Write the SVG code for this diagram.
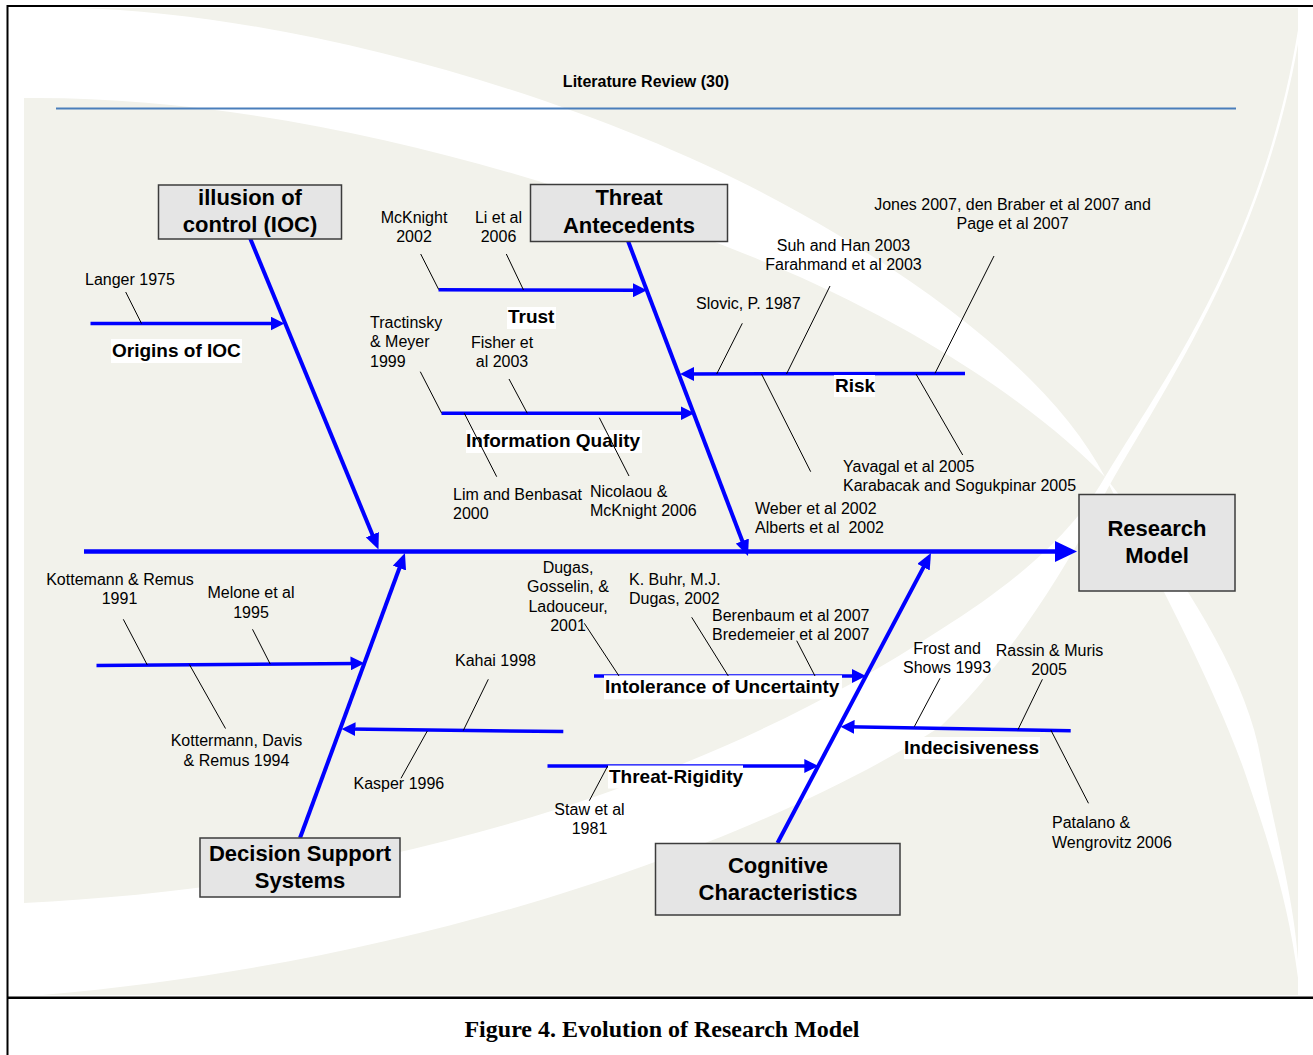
<svg xmlns="http://www.w3.org/2000/svg" width="1313" height="1055" viewBox="0 0 1313 1055">
  <style>
    .ref { font-family: "Liberation Sans", Arial, sans-serif; font-size: 16px; fill: #000; }
    .mid { text-anchor: middle; }
    .lbl { font-family: "Liberation Sans", Arial, sans-serif; font-size: 19px; font-weight: bold; fill: #000; }
    .plate { fill: #fff; }
    .box rect { fill: #e5e5e5; stroke: #3c3c3c; stroke-width: 1.5; }
    .box text { font-family: "Liberation Sans", Arial, sans-serif; font-size: 22px; font-weight: bold; text-anchor: middle; fill: #000; }
    .spine { stroke: #0000ff; stroke-width: 4.5; fill: none; }
    .bone { stroke: #0000ff; stroke-width: 4; fill: none; }
    .sub { stroke: #0000ff; stroke-width: 3.5; fill: none; }
    .lead { stroke: #000; stroke-width: 1; fill: none; }
    .frame { stroke: #000; fill: none; }
  </style>
  <defs>
    <marker id="arrowLg" markerUnits="userSpaceOnUse" markerWidth="22" markerHeight="22" refX="11" refY="10.5" orient="auto">
      <path d="M0,0 L22,10.5 L0,21 Z" fill="#0000ff"/>
    </marker>
    <marker id="arrowMd" markerUnits="userSpaceOnUse" markerWidth="16" markerHeight="14" refX="8" refY="7" orient="auto">
      <path d="M0,0 L16,7 L0,14 Z" fill="#0000ff"/>
    </marker>
    <marker id="arrowSm" markerUnits="userSpaceOnUse" markerWidth="14" markerHeight="14" refX="7" refY="7" orient="auto">
      <path d="M0,0 L14,7 L0,14 Z" fill="#0000ff"/>
    </marker>
  </defs>

  <!-- page -->
  <rect x="0" y="0" width="1313" height="1055" fill="#fff"/>

  <!-- slide background with crossing swooshes -->
  <g id="background">
    <rect x="24" y="8" width="1274" height="987" fill="#f2f2eb"/>
    <path fill="#fff" d="M24,8 L77,8 C300,14 600,100 800,213 C950,297 1060,390 1105,477 C1160,545 1238,655 1258,745 C1275,830 1294,900 1298,960 L1298,978 C1288,900 1268,840 1244,770 C1212,680 1150,565 1105,477 C1050,420 950,345 800,277 C600,190 300,95 24,98 Z"/>
    <path fill="#fff" d="M24,903 C300,890 650,820 940,630 C1020,580 1075,530 1105,477 C1160,385 1262,250 1298,30 L1298,44 C1262,250 1160,395 1108,488 C1050,600 990,680 940,727 C780,830 450,960 42,995 L24,995 Z"/>
  </g>

  <!-- frame and caption -->
  <g id="frame">
    <line class="frame" x1="7" y1="6" x2="1313" y2="6" stroke-width="2"/>
    <line class="frame" x1="7.5" y1="5" x2="7.5" y2="1055" stroke-width="2"/>
    <line class="frame" x1="7" y1="997.8" x2="1313" y2="997.8" stroke-width="2.5"/>
    <text x="662" y="1037" text-anchor="middle" font-family="'Liberation Serif', 'Times New Roman', serif" font-size="24" font-weight="bold">Figure 4. Evolution of Research Model</text>
  </g>

  <!-- slide title -->
  <g id="title">
    <text x="646" y="87" text-anchor="middle" font-family="'Liberation Sans', Arial, sans-serif" font-size="16" font-weight="bold">Literature Review (30)</text>
    <line x1="56" y1="108.5" x2="1236" y2="108.5" stroke="#4a7ebb" stroke-width="2"/>
  </g>

  <!-- fishbone: spine, main bones and cause bones -->
  <g id="connectors">
    <line class="spine" x1="84" y1="551.5" x2="1066" y2="551.5" marker-end="url(#arrowLg)"/>
    <line class="bone" x1="250" y1="238" x2="375.45" y2="542.1" marker-end="url(#arrowMd)"/>
    <line class="bone" x1="628" y1="241" x2="745.15" y2="548.5" marker-end="url(#arrowMd)"/>
    <line class="bone" x1="300" y1="838" x2="402.2" y2="560.5" marker-end="url(#arrowMd)"/>
    <line class="bone" x1="777.5" y1="843" x2="927.25" y2="560.1" marker-end="url(#arrowMd)"/>

    <line class="sub" x1="90.5" y1="323.5" x2="277.5" y2="323.5" marker-end="url(#arrowSm)"/>
    <line class="sub" x1="438.5" y1="289.8" x2="640" y2="290.2" marker-end="url(#arrowSm)"/>
    <line class="sub" x1="441.5" y1="413.3" x2="687.5" y2="413.3" marker-end="url(#arrowSm)"/>
    <line class="sub" x1="965" y1="373.5" x2="687" y2="374" marker-end="url(#arrowSm)"/>
    <line class="sub" x1="96.5" y1="665.5" x2="357.5" y2="663.4" marker-end="url(#arrowSm)"/>
    <line class="sub" x1="563.3" y1="731.5" x2="348.5" y2="729.1" marker-end="url(#arrowSm)"/>
    <line class="sub" x1="594" y1="676" x2="859" y2="676" marker-end="url(#arrowSm)"/>
    <line class="sub" x1="547.5" y1="766" x2="811.3" y2="766" marker-end="url(#arrowSm)"/>
    <line class="sub" x1="1070.7" y1="730.7" x2="847.5" y2="726.8" marker-end="url(#arrowSm)"/>
  </g>

  <!-- category boxes -->
  <g id="ioc" class="box">
    <rect x="158.5" y="185" width="183" height="54"/>
    <text x="250" y="205">illusion of</text>
    <text x="250" y="232">control (IOC)</text>
  </g>
  <g id="threat-antecedents" class="box">
    <rect x="530.5" y="184.5" width="197" height="57"/>
    <text x="629" y="205">Threat</text>
    <text x="629" y="232.5">Antecedents</text>
  </g>
  <g id="research-model" class="box">
    <rect x="1079" y="494.5" width="156" height="96.5"/>
    <text x="1157" y="536">Research</text>
    <text x="1157" y="563">Model</text>
  </g>
  <g id="dss" class="box">
    <rect x="200" y="838" width="200" height="59"/>
    <text x="300" y="861">Decision Support</text>
    <text x="300" y="888">Systems</text>
  </g>
  <g id="cognitive" class="box">
    <rect x="655.5" y="843.5" width="244.5" height="71.5"/>
    <text x="778" y="873">Cognitive</text>
    <text x="778" y="900">Characteristics</text>
  </g>

  <!-- cause labels -->
  <g id="origins-of-ioc">
    <rect class="plate" x="111" y="339" width="131" height="24"/>
    <text class="lbl" x="112" y="357">Origins of IOC</text>
  </g>
  <g id="trust">
    <rect class="plate" x="507" y="307" width="49" height="22"/>
    <text class="lbl" x="508" y="323">Trust</text>
  </g>
  <g id="information-quality">
    <rect class="plate" x="466" y="430" width="176" height="23"/>
    <text class="lbl" x="466" y="447">Information Quality</text>
  </g>
  <g id="risk">
    <rect class="plate" x="834" y="375" width="41" height="22"/>
    <text class="lbl" x="835" y="392">Risk</text>
  </g>
  <g id="intolerance-of-uncertainty">
    <rect class="plate" x="604" y="675.3" width="238" height="24"/>
    <text class="lbl" x="605" y="693">Intolerance of Uncertainty</text>
  </g>
  <g id="threat-rigidity">
    <rect class="plate" x="608" y="765.5" width="135" height="23"/>
    <text class="lbl" x="609" y="782.5">Threat-Rigidity</text>
  </g>
  <g id="indecisiveness">
    <rect class="plate" x="904" y="737" width="136" height="22"/>
    <text class="lbl" x="904" y="753.5">Indecisiveness</text>
  </g>

  <!-- leader lines from references to their bones -->
  <g id="leaders">
    <line class="lead" x1="125.7" y1="292" x2="141.5" y2="323.5"/>
    <line class="lead" x1="420.7" y1="254" x2="438.7" y2="289.5"/>
    <line class="lead" x1="506.3" y1="254" x2="523.5" y2="290"/>
    <line class="lead" x1="420.3" y1="371.7" x2="441.7" y2="413.3"/>
    <line class="lead" x1="509" y1="379" x2="527.3" y2="413.3"/>
    <line class="lead" x1="464.3" y1="413.3" x2="496.7" y2="476.7"/>
    <line class="lead" x1="599.3" y1="417.7" x2="629" y2="476"/>
    <line class="lead" x1="742.3" y1="323.3" x2="716.7" y2="374"/>
    <line class="lead" x1="830" y1="286" x2="786.5" y2="374"/>
    <line class="lead" x1="994" y1="256" x2="935" y2="373.3"/>
    <line class="lead" x1="761.5" y1="374" x2="810.7" y2="471.7"/>
    <line class="lead" x1="916" y1="374" x2="962.7" y2="455"/>
    <line class="lead" x1="123.3" y1="619.3" x2="147.3" y2="665"/>
    <line class="lead" x1="252.5" y1="629.3" x2="270.2" y2="664"/>
    <line class="lead" x1="189.4" y1="664.5" x2="225.5" y2="728.5"/>
    <line class="lead" x1="488.3" y1="679.3" x2="463.3" y2="730.5"/>
    <line class="lead" x1="427.3" y1="731" x2="401" y2="778.3"/>
    <line class="lead" x1="584.3" y1="623.3" x2="619" y2="676"/>
    <line class="lead" x1="691.7" y1="617.3" x2="728.3" y2="676"/>
    <line class="lead" x1="796.7" y1="640.7" x2="815" y2="676"/>
    <line class="lead" x1="607.7" y1="766" x2="589.3" y2="800.7"/>
    <line class="lead" x1="940" y1="678.3" x2="914.3" y2="726.7"/>
    <line class="lead" x1="1042.4" y1="679.3" x2="1018" y2="729.5"/>
    <line class="lead" x1="1050.8" y1="730" x2="1088.5" y2="803.3"/>
  </g>

  <!-- literature references -->
  <g id="refs-ioc">
    <text class="ref" x="85" y="284.5">Langer 1975</text>
  </g>
  <g id="refs-trust">
    <text class="ref mid" x="414" y="223.3">McKnight</text>
    <text class="ref mid" x="414" y="242.3">2002</text>
    <text class="ref mid" x="498.5" y="223.3">Li et al</text>
    <text class="ref mid" x="498.5" y="242.3">2006</text>
  </g>
  <g id="refs-information-quality">
    <text class="ref" x="370" y="327.7">Tractinsky</text>
    <text class="ref" x="370" y="346.7">&amp; Meyer</text>
    <text class="ref" x="370" y="366.7">1999</text>
    <text class="ref mid" x="502" y="347.7">Fisher et</text>
    <text class="ref mid" x="502" y="366.7">al 2003</text>
    <text class="ref" x="453" y="500">Lim and Benbasat</text>
    <text class="ref" x="453" y="519">2000</text>
    <text class="ref" x="590" y="496.7">Nicolaou &amp;</text>
    <text class="ref" x="590" y="515.7">McKnight 2006</text>
  </g>
  <g id="refs-risk">
    <text class="ref" x="696" y="309.3">Slovic, P. 1987</text>
    <text class="ref mid" x="843.5" y="250.7">Suh and Han 2003</text>
    <text class="ref mid" x="843.5" y="270">Farahmand et al 2003</text>
    <text class="ref mid" x="1012.5" y="210">Jones 2007, den Braber et al 2007 and</text>
    <text class="ref mid" x="1012.5" y="229.3">Page et al 2007</text>
    <text class="ref" x="755" y="514">Weber et al 2002</text>
    <text class="ref" x="755" y="533.3">Alberts et al&#160; 2002</text>
    <text class="ref" x="843" y="472.3">Yavagal et al 2005</text>
    <text class="ref" x="843" y="491">Karabacak and Sogukpinar 2005</text>
  </g>
  <g id="refs-dss">
    <text class="ref mid" x="120" y="585">Kottemann &amp; Remus</text>
    <text class="ref mid" x="119.5" y="604.3">1991</text>
    <text class="ref mid" x="251" y="598">Melone et al</text>
    <text class="ref mid" x="251" y="617.7">1995</text>
    <text class="ref mid" x="236.5" y="746">Kottermann, Davis</text>
    <text class="ref mid" x="236.5" y="765.7">&amp; Remus 1994</text>
    <text class="ref" x="455" y="666">Kahai 1998</text>
    <text class="ref" x="353.5" y="789">Kasper 1996</text>
  </g>
  <g id="refs-cognitive">
    <text class="ref mid" x="568" y="573.3">Dugas,</text>
    <text class="ref mid" x="568" y="592.3">Gosselin, &amp;</text>
    <text class="ref mid" x="568" y="611.7">Ladouceur,</text>
    <text class="ref mid" x="568" y="630.7">2001</text>
    <text class="ref" x="629" y="585">K. Buhr, M.J.</text>
    <text class="ref" x="629" y="604.3">Dugas, 2002</text>
    <text class="ref" x="712" y="621">Berenbaum et al 2007</text>
    <text class="ref" x="712" y="640">Bredemeier et al 2007</text>
    <text class="ref mid" x="589.5" y="815">Staw et al</text>
    <text class="ref mid" x="589.5" y="834">1981</text>
    <text class="ref mid" x="947" y="654.3">Frost and</text>
    <text class="ref mid" x="947" y="673.3">Shows 1993</text>
    <text class="ref mid" x="1049.5" y="656">Rassin &amp; Muris</text>
    <text class="ref mid" x="1049" y="675">2005</text>
    <text class="ref" x="1052" y="828.3">Patalano &amp;</text>
    <text class="ref" x="1052" y="848.3">Wengrovitz 2006</text>
  </g>
</svg>
